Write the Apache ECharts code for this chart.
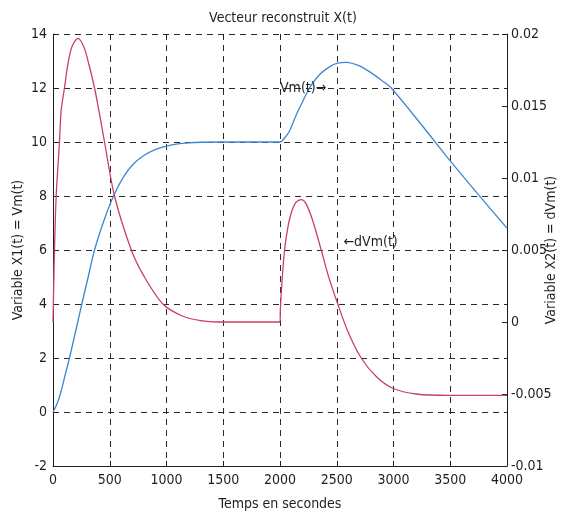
<!DOCTYPE html>
<html>
<head>
<meta charset="utf-8">
<script src="https://cdn.jsdelivr.net/npm/echarts@6/dist/echarts.min.js"></script>
<style>
    html, body { margin: 0; padding: 0; background: #fff; }
    #chart { width: 566px; height: 514px; }
</style>
</head>
<body>
<div id="chart"></div>
<script>
    // Vm(t) - axe de gauche
    const vmT = [0, 30, 60, 100, 145, 200, 254, 310, 366, 450, 533, 620, 700, 800, 900, 1000, 1100, 1200, 1300, 1500, 2000,
        2040, 2083, 2143, 2200, 2260, 2350, 2450, 2510, 2583, 2700, 2800, 2900, 2980, 3250, 3500, 3750, 4000];
    const vmVal = [0, 0.25, 0.6, 1.25, 2, 3, 4, 5, 6, 7.1, 8, 8.7, 9.15, 9.5, 9.72, 9.85, 9.93, 9.97, 9.99, 10, 10,
        10.15, 10.4, 11.0, 11.5, 12, 12.5, 12.82, 12.92, 12.95, 12.82, 12.57, 12.27, 12.0, 10.62, 9.3, 8.04, 6.81];

    // dVm(t) - axe de droite
    const dvmT = [0, 5, 13, 28, 57, 72, 101, 131, 166, 219, 272, 316, 366, 404, 454, 542, 690, 800, 968, 1144, 1300, 1450, 2000,
        2003, 2015, 2040, 2070, 2100, 2140, 2187, 2230, 2290, 2363, 2430, 2509, 2600, 2715, 2850, 2994, 3200, 3500, 4000];
    const dvmVal = [0, 0.002, 0.005, 0.00875, 0.0125, 0.0147, 0.01625, 0.0179, 0.0191, 0.0197, 0.0191, 0.0179, 0.01625, 0.0147, 0.0125, 0.00875, 0.005, 0.0032, 0.00125, 0.0004, 0.0001, 0, 0,
        0.0008, 0.0025, 0.005, 0.0066, 0.0076, 0.0083, 0.0085, 0.0082, 0.0070, 0.005, 0.0031, 0.00125, -0.0007, -0.0025, -0.0038, -0.0046, -0.0050, -0.0051, -0.0051];

    // ticks
    const xTicks = [0, 500, 1000, 1500, 2000, 2500, 3000, 3500, 4000];
    const leftTicks = [-2, 0, 2, 4, 6, 8, 10, 12, 14];
    const rightTicks = [-0.01, -0.005, 0, 0.005, 0.01, 0.015, 0.02];

    const font = '"DejaVu Sans Condensed", "Liberation Sans", sans-serif';
    const ink = '#1e1e1e';

    let mChart = echarts.init(document.getElementById('chart'), null, { renderer: 'canvas' });

    let options = {
        animation: false,
        backgroundColor: '#fff',
        title: {
            text: 'Vecteur reconstruit X(t)',
            left: 'center',
            top: 6,
            textStyle: { color: ink, fontSize: 14, fontWeight: 'normal', fontFamily: font }
        },
        grid: { left: 53, right: 59, top: 34, bottom: 48, outerBoundsMode: 'none', containLabel: false },
        xAxis: [
            {
                type: 'value',
                min: xTicks[0],
                max: xTicks[xTicks.length - 1],
                interval: 500,
                name: 'Temps en secondes',
                nameLocation: 'middle',
                nameGap: 31,
                nameMoveOverlap: false,
                nameTextStyle: { color: ink, fontSize: 14, fontFamily: font },
                axisLine: { show: true, onZero: false, lineStyle: { color: ink, width: 1 } },
                // graduations vers l'intérieur
                axisTick: { show: true, inside: true, length: 5, lineStyle: { color: ink } },
                axisLabel: { color: ink, fontSize: 14, fontFamily: font, margin: 7, formatter: v => String(v) },
                splitLine: { show: true, lineStyle: { color: '#2a2a2a', type: [6, 5], width: 1 } }
            },
            {
                // graduations du haut
                type: 'value',
                position: 'top',
                min: xTicks[0],
                max: xTicks[xTicks.length - 1],
                interval: 500,
                axisLine: { show: false, onZero: false },
                axisTick: { show: true, inside: true, length: 4, lineStyle: { color: ink } },
                axisLabel: { show: false },
                splitLine: { show: false }
            }
        ],
        yAxis: [
            {
                type: 'value',
                min: leftTicks[0],
                max: leftTicks[leftTicks.length - 1],
                interval: 2,
                name: 'Variable X1(t) = Vm(t)',
                nameLocation: 'middle',
                nameRotate: 90,
                nameGap: 28,
                nameMoveOverlap: false,
                nameTextStyle: { color: ink, fontSize: 14, fontFamily: font },
                axisLine: { show: true, onZero: false, lineStyle: { color: ink, width: 1 } },
                axisTick: { show: true, inside: true, length: 5, lineStyle: { color: ink } },
                axisLabel: { color: ink, fontSize: 14, fontFamily: font, margin: 6 },
                splitLine: { show: true, lineStyle: { color: '#2a2a2a', type: [6, 5], width: 1 } }
            },
            {
                type: 'value',
                position: 'right',
                min: rightTicks[0],
                max: rightTicks[rightTicks.length - 1],
                interval: 0.005,
                name: 'Variable X2(t) = dVm(t)',
                nameLocation: 'middle',
                nameRotate: 90,
                nameGap: 37,
                nameMoveOverlap: false,
                nameTextStyle: { color: ink, fontSize: 14, fontFamily: font },
                axisLine: { show: true, onZero: false, lineStyle: { color: ink, width: 1 } },
                axisTick: { show: true, inside: true, length: 5, lineStyle: { color: ink } },
                axisLabel: {
                    color: ink, fontSize: 14, fontFamily: font, margin: 4,
                    formatter: v => String(Math.round(v * 1000) / 1000)
                },
                splitLine: { show: false }
            }
        ],
        series: [
            {
                type: 'line',
                name: 'Vm(t)',
                xAxisIndex: 0,
                yAxisIndex: 0,
                smooth: 0.3,
                showSymbol: false,
                lineStyle: { color: '#3d86d2', width: 1.3 },
                data: vmT.map((t, i) => [t, vmVal[i]]),
                markPoint: {
                    symbol: 'circle',
                    symbolSize: 0,
                    label: {
                        show: true,
                        position: 'right',
                        distance: 0,
                        color: ink,
                        fontSize: 14,
                        fontFamily: font,
                        formatter: 'Vm(t)\u2192'
                    },
                    data: [{ coord: [2000, 12] }]
                }
            },
            {
                type: 'line',
                name: 'dVm(t)',
                xAxisIndex: 0,
                yAxisIndex: 1,
                smooth: 0.3,
                showSymbol: false,
                lineStyle: { color: '#c8425e', width: 1.3 },
                data: dvmT.map((t, i) => [t, dvmVal[i]]),
                markPoint: {
                    symbol: 'circle',
                    symbolSize: 0,
                    label: {
                        show: true,
                        position: 'right',
                        distance: 0,
                        color: ink,
                        fontSize: 14,
                        fontFamily: font,
                        formatter: '\u2190dVm(t)'
                    },
                    data: [{ coord: [2560, 0.0055] }]
                }
            }
        ]
    };
    mChart.setOption(options);
</script>
</body>
</html>
